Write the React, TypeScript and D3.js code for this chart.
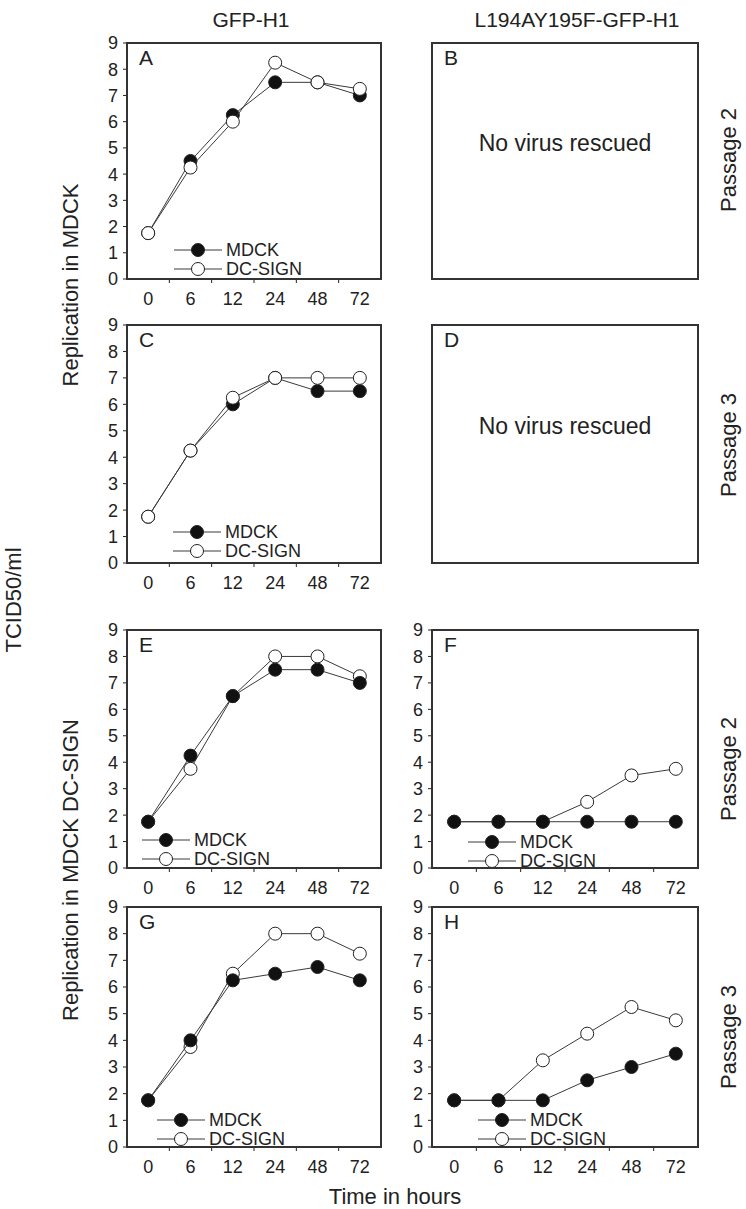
import React from "react";
import * as d3 from "d3";

const timeLabels = ["0", "6", "12", "24", "48", "72"];
const yTicks = [0, 1, 2, 3, 4, 5, 6, 7, 8, 9];
const seriesNames = ["MDCK", "DC-SIGN"];

const panelA_MDCK = [1.75, 4.5, 6.25, 7.5, 7.5, 7.0];
const panelA_DC = [1.75, 4.25, 6.0, 8.25, 7.5, 7.25];
const panelC_MDCK = [1.75, 4.25, 6.0, 7.0, 6.5, 6.5];
const panelC_DC = [1.75, 4.25, 6.25, 7.0, 7.0, 7.0];
const panelE_MDCK = [1.75, 4.25, 6.5, 7.5, 7.5, 7.0];
const panelE_DC = [1.75, 3.75, 6.5, 8.0, 8.0, 7.25];
const panelG_MDCK = [1.75, 4.0, 6.25, 6.5, 6.75, 6.25];
const panelG_DC = [1.75, 3.75, 6.5, 8.0, 8.0, 7.25];
const panelF_MDCK = [1.75, 1.75, 1.75, 1.75, 1.75, 1.75];
const panelF_DC = [1.75, 1.75, 1.75, 2.5, 3.5, 3.75];
const panelH_MDCK = [1.75, 1.75, 1.75, 2.5, 3.0, 3.5];
const panelH_DC = [1.75, 1.75, 3.25, 4.25, 5.25, 4.75];

const columnTitles = ["GFP-H1", "L194AY195F-GFP-H1"];
const emptyText = "No virus rescued";

// layout
const cols = [
  [127, 381],
  [432, 698],
];
const rows = [
  [43, 279],
  [325, 563],
  [630, 868],
  [907, 1147],
];

type Panel = {
  id: string;
  col: number;
  row: number;
  mdck?: number[];
  dc?: number[];
  legend?: [number, number];
  dcOnTop?: boolean;
  axes: boolean;
};

const panels: Panel[] = [
  { id: "A", col: 0, row: 0, mdck: panelA_MDCK, dc: panelA_DC, legend: [47, -29], dcOnTop: true, axes: true },
  { id: "B", col: 1, row: 0, axes: false },
  { id: "C", col: 0, row: 1, mdck: panelC_MDCK, dc: panelC_DC, legend: [46, -31], dcOnTop: true, axes: true },
  { id: "D", col: 1, row: 1, axes: false },
  { id: "E", col: 0, row: 2, mdck: panelE_MDCK, dc: panelE_DC, legend: [15, -28], dcOnTop: false, axes: true },
  { id: "F", col: 1, row: 2, mdck: panelF_MDCK, dc: panelF_DC, legend: [36, -26], dcOnTop: false, axes: true },
  { id: "G", col: 0, row: 3, mdck: panelG_MDCK, dc: panelG_DC, legend: [30, -27], dcOnTop: false, axes: true },
  { id: "H", col: 1, row: 3, mdck: panelH_MDCK, dc: panelH_DC, legend: [46, -27], dcOnTop: false, axes: true },
];

const FONT = "'Liberation Sans', Arial, Helvetica, sans-serif";
const INK = "#222";
const LINE = "#3a3a3a";
const R = 6.5;

function Marker({ x, y, filled }: { x: number; y: number; filled: boolean }) {
  return (
    <circle
      cx={x}
      cy={y}
      r={R}
      fill={filled ? "#111" : "#fff"}
      stroke="#222"
      strokeWidth={1}
    />
  );
}

function PanelView({ p }: { p: Panel }) {
  const [x0, x1] = cols[p.col];
  const [y0, y1] = rows[p.row];
  const x = d3.scaleBand<string>().domain(timeLabels).range([x0, x1]).padding(0);
  const y = d3.scaleLinear().domain([0, 9]).range([y1, y0]);
  const line = d3
    .line<number>()
    .x((_, i) => (x(timeLabels[i]) as number) + x.bandwidth() / 2)
    .y((v) => y(v));

  const seriesOrder: { vals: number[]; filled: boolean }[] = [];
  if (p.mdck && p.dc) {
    const m = { vals: p.mdck, filled: true };
    const c = { vals: p.dc, filled: false };
    if (p.dcOnTop) seriesOrder.push(m, c);
    else seriesOrder.push(c, m);
  }

  return (
    <g>
      {p.axes && (
        <g>
          {yTicks.map((t) => (
            <g key={"y" + t}>
              <line x1={x0 - 4} x2={x0} y1={y(t)} y2={y(t)} stroke={INK} strokeWidth={1} />
              <text
                x={x0 - 9}
                y={y(t)}
                dy="0.36em"
                textAnchor="end"
                fontSize={18}
                fontFamily={FONT}
                fill={INK}
              >
                {t}
              </text>
            </g>
          ))}
          {timeLabels.map((t, i) => {
            const bx = x(t) as number;
            return (
              <g key={"x" + t}>
                {i > 0 && <line x1={bx} x2={bx} y1={y1} y2={y1 + 4} stroke={INK} strokeWidth={1} />}
                <text
                  x={bx + x.bandwidth() / 2}
                  y={y1 + 26}
                  textAnchor="middle"
                  fontSize={18}
                  fontFamily={FONT}
                  fill={INK}
                >
                  {t}
                </text>
              </g>
            );
          })}
        </g>
      )}
      {seriesOrder.map((s, k) => (
        <g key={"s" + k}>
          <path d={line(s.vals) || ""} fill="none" stroke={LINE} strokeWidth={1} />
          {s.vals.map((v, i) => (
            <Marker
              key={i}
              x={(x(timeLabels[i]) as number) + x.bandwidth() / 2}
              y={y(v)}
              filled={s.filled}
            />
          ))}
        </g>
      ))}
      {p.legend &&
        seriesNames.map((name, k) => {
          const lx = x0 + p.legend![0];
          const ly = y1 + p.legend![1] + k * 19;
          return (
            <g key={"lg" + k}>
              <line x1={lx} x2={lx + 48} y1={ly} y2={ly} stroke={LINE} strokeWidth={1} />
              <Marker x={lx + 24} y={ly} filled={k === 0} />
              <text
                x={lx + 52}
                y={ly}
                dy="0.36em"
                fontSize={18}
                fontFamily={FONT}
                fill={INK}
              >
                {name}
              </text>
            </g>
          );
        })}
      <rect
        x={x0}
        y={y0}
        width={x1 - x0}
        height={y1 - y0}
        fill="none"
        stroke="#333"
        strokeWidth={2}
      />
      <text x={x0 + 12} y={y0 + 22} fontSize={21} fontFamily={FONT} fill={INK}>
        {p.id}
      </text>
      {!p.axes && (
        <text
          x={(x0 + x1) / 2}
          y={y(5.2)}
          dy="0.36em"
          textAnchor="middle"
          fontSize={23}
          fontFamily={FONT}
          fill={INK}
        >
          {emptyText}
        </text>
      )}
    </g>
  );
}

function VText({ x, y, text }: { x: number; y: number; text: string }) {
  return (
    <text
      transform={`translate(${x},${y}) rotate(-90)`}
      textAnchor="middle"
      dy="0.36em"
      fontSize={22}
      fontFamily={FONT}
      fill={INK}
    >
      {text}
    </text>
  );
}

export default function App() {
  return (
    <svg
      width={746}
      height={1209}
      style={{ position: "absolute", left: 0, top: 0, background: "#fff" }}
    >
      <rect x={0} y={0} width={746} height={1209} fill="#fff" />
      {columnTitles.map((t, i) => (
        <text
          key={t}
          x={(cols[i][0] + cols[i][1]) / 2 + (i === 0 ? -3 : 12)}
          y={27}
          textAnchor="middle"
          fontSize={21}
          fontFamily={FONT}
          fill={INK}
        >
          {t}
        </text>
      ))}
      {panels.map((p) => (
        <PanelView key={p.id} p={p} />
      ))}
      <VText x={70} y={285} text="Replication in MDCK" />
      <VText x={70} y={870} text="Replication in MDCK DC-SIGN" />
      <VText x={13} y={600} text="TCID50/ml" />
      <VText x={728} y={160} text="Passage 2" />
      <VText x={728} y={445} text="Passage 3" />
      <VText x={728} y={769} text="Passage 2" />
      <VText x={728} y={1037} text="Passage 3" />
      <text x={395} y={1204} textAnchor="middle" fontSize={22} fontFamily={FONT} fill={INK}>
        Time in hours
      </text>
    </svg>
  );
}
